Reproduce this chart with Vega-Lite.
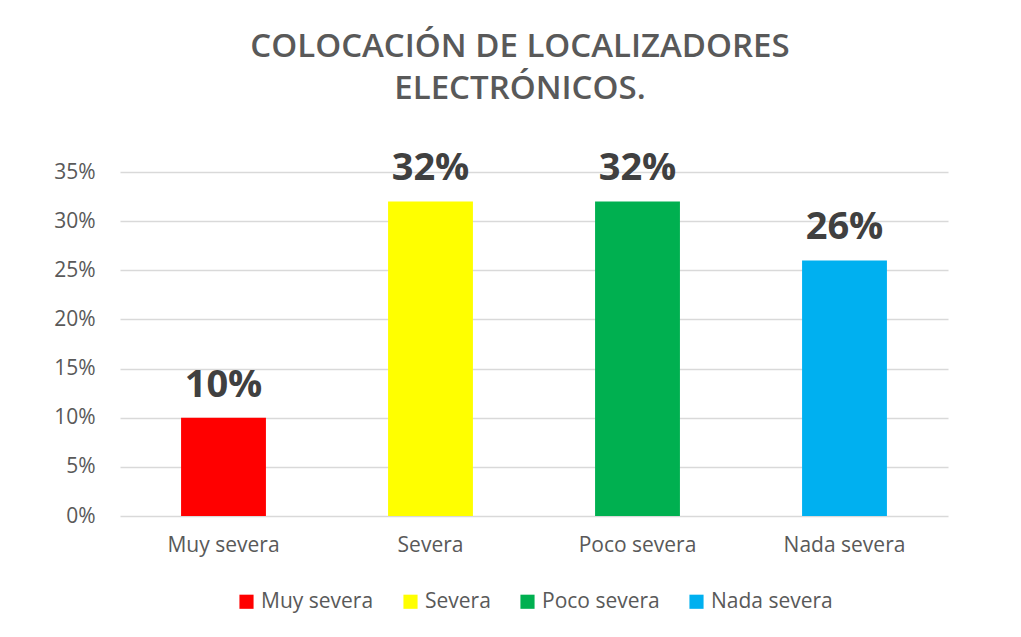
{
  "$schema": "https://vega.github.io/schema/vega-lite/v6.json",
  "autosize": {"type": "none"},
  "width": 828,
  "height": 344,
  "padding": {"left": 120, "top": 172, "right": 73, "bottom": 121},
  "background": "white",
  "title": {
    "text": ["COLOCACIÓN DE LOCALIZADORES", "ELECTRÓNICOS."],
    "font": "Open Sans",
    "fontSize": 33,
    "fontWeight": 600,
    "color": "#595959",
    "lineHeight": 42,
    "anchor": "middle",
    "dx": -14,
    "offset": 44
  },
  "data": {
    "values": [
      {"categoria": "Muy severa", "valor": 0.10, "etiqueta": "10%"},
      {"categoria": "Severa", "valor": 0.32, "etiqueta": "32%"},
      {"categoria": "Poco severa", "valor": 0.32, "etiqueta": "32%"},
      {"categoria": "Nada severa", "valor": 0.26, "etiqueta": "26%"}
    ]
  },
  "encoding": {
    "x": {
      "field": "categoria",
      "type": "nominal",
      "sort": ["Muy severa", "Severa", "Poco severa", "Nada severa"],
      "scale": {"paddingInner": 0.59, "paddingOuter": 0.295},
      "axis": {
        "title": null,
        "labelAngle": 0,
        "labelFont": "Open Sans",
        "labelFontSize": 21,
        "labelColor": "#595959",
        "labelPadding": 18,
        "domain": false,
        "ticks": false
      }
    },
    "y": {
      "field": "valor",
      "type": "quantitative",
      "scale": {"domain": [0, 0.35]},
      "axis": {
        "title": null,
        "format": ".0%",
        "values": [0, 0.05, 0.1, 0.15, 0.2, 0.25, 0.3, 0.35],
        "labelFont": "Open Sans",
        "labelFontSize": 21,
        "labelColor": "#595959",
        "labelPadding": 25,
        "domain": false,
        "ticks": false,
        "grid": true,
        "gridColor": "#d9d9d9",
        "gridWidth": 1.5
      }
    }
  },
  "layer": [
    {
      "mark": {"type": "bar"},
      "encoding": {
        "color": {
          "field": "categoria",
          "type": "nominal",
          "sort": ["Muy severa", "Severa", "Poco severa", "Nada severa"],
          "scale": {
            "domain": ["Muy severa", "Severa", "Poco severa", "Nada severa"],
            "range": ["#FF0000", "#FFFF00", "#00B050", "#00B0F0"]
          },
          "legend": {
            "title": null,
            "orient": "bottom",
            "direction": "horizontal",
            "columns": 4,
            "symbolType": "square",
            "symbolSize": 200,
            "symbolStrokeWidth": 0,
            "labelFont": "Open Sans",
            "labelFontSize": 21,
            "labelColor": "#595959",
            "columnPadding": 26,
            "offset": 36
          }
        }
      }
    },
    {
      "mark": {
        "type": "text",
        "font": "Open Sans",
        "fontSize": 38,
        "fontWeight": "bold",
        "color": "#404040",
        "baseline": "alphabetic",
        "dy": -21
      },
      "encoding": {
        "text": {"field": "etiqueta"}
      }
    }
  ],
  "config": {
    "view": {"stroke": null},
    "legend": {"layout": {"bottom": {"anchor": "middle"}}}
  }
}
